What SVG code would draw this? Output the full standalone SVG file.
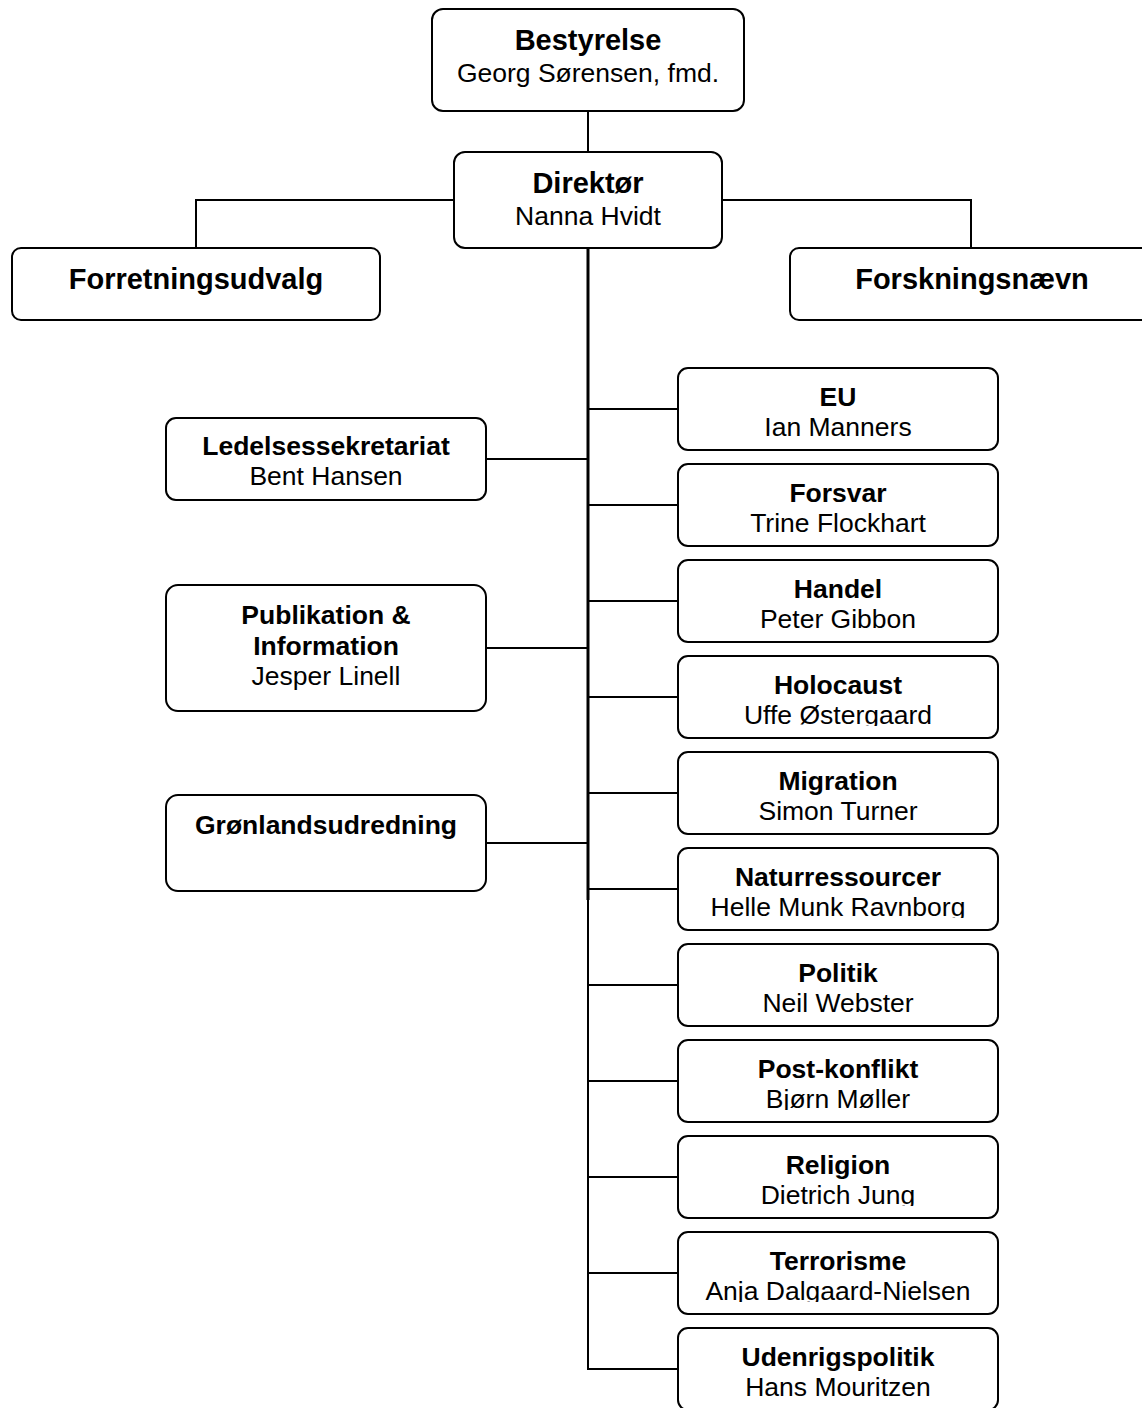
<svg xmlns="http://www.w3.org/2000/svg" width="1142" height="1408" viewBox="0 0 1142 1408">
<style>
.box{fill:#fff;stroke:#000;stroke-width:2}
.ln{fill:none;stroke:#000;stroke-width:2}
.tk{fill:none;stroke:#000;stroke-width:3}
text{font-family:"Liberation Sans",Arial,sans-serif;text-anchor:middle;fill:#000}
.h{font-weight:bold;font-size:29px}
.b{font-weight:bold;font-size:26.5px}
.r{font-size:26.5px}
</style>
<defs>
<clipPath id="nc" clipPathUnits="userSpaceOnUse"><rect x="0" y="0" width="320" height="70"/></clipPath>
</defs>
<rect width="1142" height="1408" fill="#fff"/>
<g id="connectors">
<path class="ln" d="M588 111V152"/>
<path class="ln" d="M454 200H196V248"/>
<path class="ln" d="M722 200H971V248"/>
<path class="tk" d="M588 248V900"/>
<path class="ln" d="M588 899V1369H678"/>
<path class="ln" d="M486 459H588M486 648H588M486 843H588"/>
<path class="ln" d="M588 409H678M588 505H678M588 601H678M588 697H678M588 793H678M588 889H678M588 985H678M588 1081H678M588 1177H678M588 1273H678"/>
</g>
<g id="bestyrelse">
<rect class="box" x="432" y="9" width="312" height="102" rx="11"/>
<text class="h" x="588" y="50">Bestyrelse</text>
<text class="r" x="588" y="82">Georg Sørensen, fmd.</text>
</g>
<g id="direktor">
<rect class="box" x="454" y="152" width="268" height="96" rx="11"/>
<text class="h" x="588" y="193">Direktør</text>
<text class="r" x="588" y="225">Nanna Hvidt</text>
</g>
<g id="forretningsudvalg">
<rect class="box" x="12" y="248" width="368" height="72" rx="9"/>
<text class="h" x="196" y="289">Forretningsudvalg</text>
</g>
<g id="forskningsnaevn">
<rect class="box" x="790" y="248" width="364" height="72" rx="9"/>
<text class="h" x="972" y="289">Forskningsnævn</text>
</g>
<g id="ledelsessekretariat">
<rect class="box" x="166" y="418" width="320" height="82" rx="10"/>
<text class="b" x="326" y="455">Ledelsessekretariat</text>
<text class="r" x="326" y="485">Bent Hansen</text>
</g>
<g id="publikation">
<rect class="box" x="166" y="585" width="320" height="126" rx="12"/>
<text class="b" x="326" y="624">Publikation &amp;</text>
<text class="b" x="326" y="655">Information</text>
<text class="r" x="326" y="685">Jesper Linell</text>
</g>
<g id="gronlandsudredning">
<rect class="box" x="166" y="795" width="320" height="96" rx="12"/>
<text class="b" x="326" y="834">Grønlandsudredning</text>
</g>
<g id="eu" transform="translate(678,368)">
<rect class="box" x="0" y="0" width="320" height="82" rx="10"/>
<text class="b" x="160" y="38">EU</text>
<text class="r" x="160" y="68" clip-path="url(#nc)">Ian Manners</text>
</g>
<g id="forsvar" transform="translate(678,464)">
<rect class="box" x="0" y="0" width="320" height="82" rx="10"/>
<text class="b" x="160" y="38">Forsvar</text>
<text class="r" x="160" y="68" clip-path="url(#nc)">Trine Flockhart</text>
</g>
<g id="handel" transform="translate(678,560)">
<rect class="box" x="0" y="0" width="320" height="82" rx="10"/>
<text class="b" x="160" y="38">Handel</text>
<text class="r" x="160" y="68" clip-path="url(#nc)">Peter Gibbon</text>
</g>
<g id="holocaust" transform="translate(678,656)">
<rect class="box" x="0" y="0" width="320" height="82" rx="10"/>
<text class="b" x="160" y="38">Holocaust</text>
<text class="r" x="160" y="68" clip-path="url(#nc)">Uffe Østergaard</text>
</g>
<g id="migration" transform="translate(678,752)">
<rect class="box" x="0" y="0" width="320" height="82" rx="10"/>
<text class="b" x="160" y="38">Migration</text>
<text class="r" x="160" y="68" clip-path="url(#nc)">Simon Turner</text>
</g>
<g id="naturressourcer" transform="translate(678,848)">
<rect class="box" x="0" y="0" width="320" height="82" rx="10"/>
<text class="b" x="160" y="38">Naturressourcer</text>
<text class="r" x="160" y="68" clip-path="url(#nc)">Helle Munk Ravnborg</text>
</g>
<g id="politik" transform="translate(678,944)">
<rect class="box" x="0" y="0" width="320" height="82" rx="10"/>
<text class="b" x="160" y="38">Politik</text>
<text class="r" x="160" y="68" clip-path="url(#nc)">Neil Webster</text>
</g>
<g id="postkonflikt" transform="translate(678,1040)">
<rect class="box" x="0" y="0" width="320" height="82" rx="10"/>
<text class="b" x="160" y="38">Post-konflikt</text>
<text class="r" x="160" y="68" clip-path="url(#nc)">Bjørn Møller</text>
</g>
<g id="religion" transform="translate(678,1136)">
<rect class="box" x="0" y="0" width="320" height="82" rx="10"/>
<text class="b" x="160" y="38">Religion</text>
<text class="r" x="160" y="68" clip-path="url(#nc)">Dietrich Jung</text>
</g>
<g id="terrorisme" transform="translate(678,1232)">
<rect class="box" x="0" y="0" width="320" height="82" rx="10"/>
<text class="b" x="160" y="38">Terrorisme</text>
<text class="r" x="160" y="68" clip-path="url(#nc)">Anja Dalgaard-Nielsen</text>
</g>
<g id="udenrigspolitik" transform="translate(678,1328)">
<rect class="box" x="0" y="0" width="320" height="82" rx="10"/>
<text class="b" x="160" y="38">Udenrigspolitik</text>
<text class="r" x="160" y="68">Hans Mouritzen</text>
</g>
</svg>
